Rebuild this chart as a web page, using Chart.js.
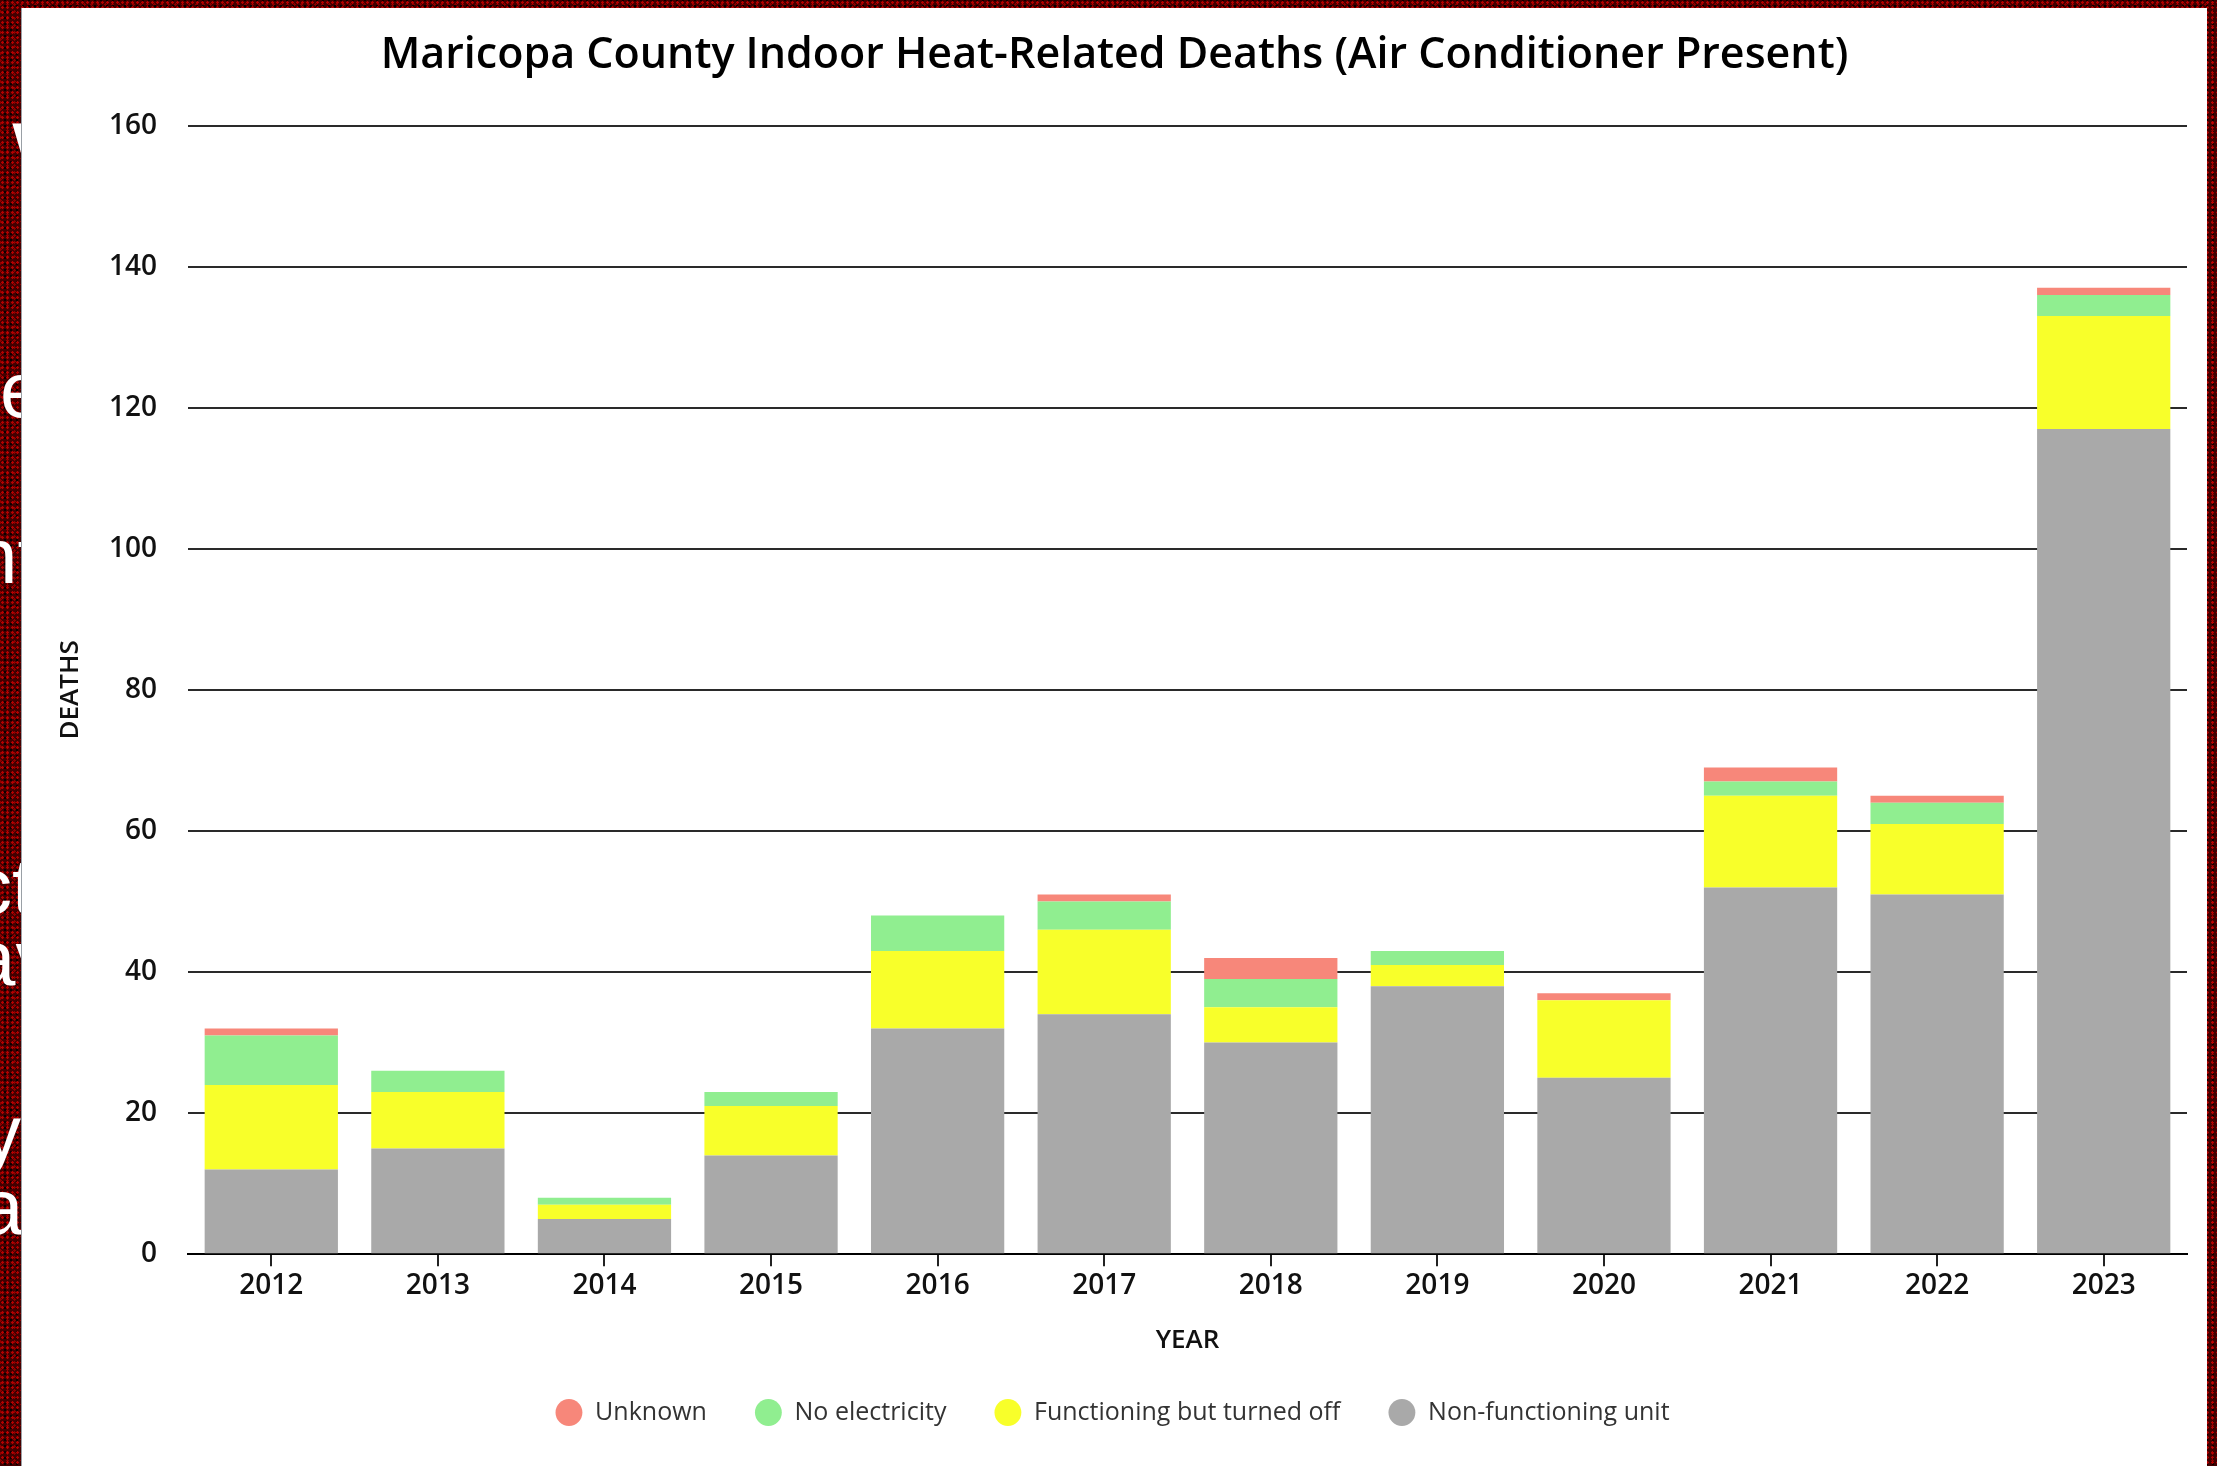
<!DOCTYPE html>
<html>
<head>
<meta charset="utf-8">
<script src="https://cdn.jsdelivr.net/npm/chart.js@4.4.1/dist/chart.umd.min.js"></script>
<style>
  html, body { margin: 0; padding: 0; }
  body {
    width: 2217px; height: 1466px; overflow: hidden; position: relative;
    background-color: #420000;
    background-image: radial-gradient(rgba(210, 0, 0, 0.8) 1px, transparent 1.5px),
                      radial-gradient(rgba(0, 0, 0, 0.85) 1px, transparent 1.6px),
                      radial-gradient(rgba(170, 0, 0, 0.7) 1px, transparent 1.4px);
    background-size: 5px 5px, 6px 6px, 7px 7px;
    background-position: 0 0, 2px 3px, 4px 1px;
    font-family: "Liberation Sans", Arial, sans-serif;
  }
  .frag {
    position: absolute; color: #fff; font-size: 78px; line-height: 78px;
    white-space: nowrap; z-index: 1;
  }
  #panel {
    position: absolute; left: 22px; top: 8px; width: 2185px; height: 1458px;
    background: #fff; z-index: 2; box-shadow: -1px 0 0 #9aa0a6;
  }
</style>
</head>
<body>
<!-- bits of the slide text peeking out from behind the chart -->
<div class="frag" style="left:12px; top:116px; font-size:90px;">W</div>
<div class="frag" style="left:0px; top:351px;">e</div>
<div class="frag" style="left:-26px; top:517px;">nt</div>
<div class="frag" style="left:-27px; top:847px;">ct</div>
<div class="frag" style="left:-28px; top:919px;">av</div>
<div class="frag" style="left:-18px; top:1094px;">y</div>
<div class="frag" style="left:-20px; top:1168px;">a</div>

<div id="panel"><canvas id="heatChart"></canvas></div>

<script>
// Data
const tahun = ['2012', '2013', '2014', '2015', '2016', '2017', '2018', '2019', '2020', '2021', '2022', '2023'];
const nonFunctioning = [12, 15, 5, 14, 32, 34, 30, 38, 25, 52, 51, 117];
const turnedOff      = [12, 8, 2, 7, 11, 12, 5, 3, 11, 13, 10, 16];
const noElectricity  = [7, 3, 1, 2, 5, 4, 4, 2, 0, 2, 3, 3];
const unknown        = [1, 0, 0, 0, 0, 1, 3, 0, 1, 2, 1, 1];

const yTicks = [0, 20, 40, 60, 80, 100, 120, 140, 160];

const fontUtama = '"Open Sans", "DejaVu Sans", sans-serif';

const ctx = document.getElementById('heatChart').getContext('2d');

new Chart(ctx, {
    type: 'bar',
    data: {
        labels: tahun,
        // urutan dari bawah ke atas (legend dibalik)
        datasets: [
            { label: 'Non-functioning unit', data: nonFunctioning, backgroundColor: '#a9a9a9' },
            { label: 'Functioning but turned off', data: turnedOff, backgroundColor: '#f8ff2a' },
            { label: 'No electricity', data: noElectricity, backgroundColor: '#90ee90' },
            { label: 'Unknown', data: unknown, backgroundColor: '#f7877a' }
        ]
    },
    options: {
        responsive: true,
        maintainAspectRatio: false,
        animation: false,
        layout: { padding: { left: 20, right: 20, top: 0, bottom: 31 } },
        datasets: {
            bar: { barPercentage: 0.8, categoryPercentage: 1.0, borderWidth: 0 }
        },
        plugins: {
            title: {
                display: true,
                text: 'Maricopa County Indoor Heat-Related Deaths (Air Conditioner Present)',
                color: '#000',
                font: { family: fontUtama, size: 43, weight: '600' },
                padding: { top: 22, bottom: 44 }
            },
            legend: {
                position: 'bottom',
                reverse: true,
                labels: {
                    usePointStyle: true,
                    pointStyle: 'circle',
                    boxWidth: 19,
                    boxHeight: 19,
                    padding: 52,
                    color: '#333',
                    font: { family: fontUtama, size: 25 },
                    // sedikit jarak antara titik dan teks
                    generateLabels: (chart) => {
                        const items = Chart.defaults.plugins.legend.labels.generateLabels(chart);
                        items.forEach(item => { item.text = '\u2009' + item.text; });
                        return items;
                    }
                }
            },
            tooltip: { enabled: false }
        },
        scales: {
            x: {
                stacked: true,
                border: { display: true, color: '#000', width: 2 },
                grid: {
                    offset: false,
                    drawOnChartArea: false,
                    drawTicks: true,
                    tickLength: 12,
                    color: '#222',
                    lineWidth: 2
                },
                ticks: {
                    color: '#111',
                    padding: 3,
                    font: { family: fontUtama, size: 28, weight: '600' }
                },
                title: {
                    display: true,
                    text: 'YEAR',
                    color: '#111',
                    font: { family: fontUtama, size: 26, weight: '600' },
                    padding: { top: 19, bottom: -8 }
                }
            },
            y: {
                stacked: true,
                min: 0,
                max: 160,
                border: { display: false },
                grid: { color: '#2a2a2a', lineWidth: 2, drawTicks: false },
                afterBuildTicks: (scale) => {
                    scale.ticks = yTicks.map(v => ({ value: v }));
                },
                afterFit: (scale) => { scale.width = 146; },
                ticks: {
                    color: '#111',
                    padding: 31,
                    font: { family: fontUtama, size: 28, weight: '600' }
                },
                title: {
                    display: true,
                    text: 'DEATHS',
                    color: '#111',
                    font: { family: fontUtama, size: 26, weight: '600' },
                    padding: { top: 13, bottom: 0 }
                }
            }
        }
    }
});
</script>
</body>
</html>
